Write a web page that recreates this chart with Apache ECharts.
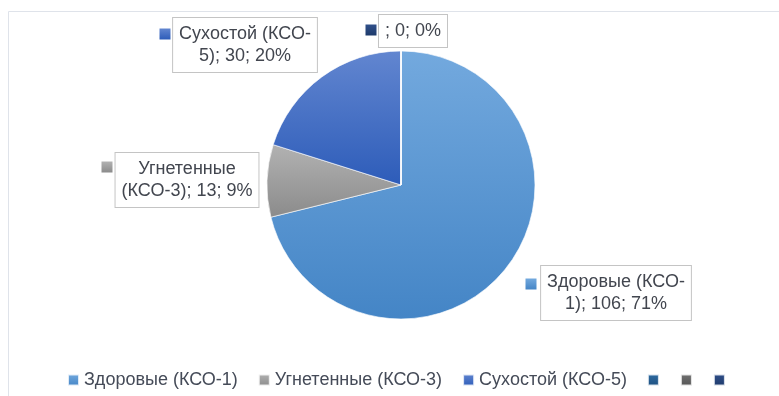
<!DOCTYPE html>
<html>
<head>
<meta charset="utf-8">
<script src="https://cdn.jsdelivr.net/npm/echarts@6/dist/echarts.min.js"></script>
<style>
  html, body { margin: 0; padding: 0; background: #fff; }
  #chart { width: 779px; height: 396px; }
</style>
</head>
<body>
<div id="chart"></div>
<script>
// Tree condition classes (КСО) and tree counts
const categories = ['Здоровые (КСО-1)', 'Угнетенные (КСО-3)', 'Сухостой (КСО-5)', '', '', ''];
const counts = [106, 13, 30, 0, 0, 0];

// Slice fills: vertical gradient, lighter at the top
const fillTop = ['#73a9de', '#b2b2b2', '#6286d0', '#2f6ca3', '#727272', '#30508a'];
const fillBottom = ['#4485c6', '#8b8b8b', '#2d5cb9', '#1d4f7f', '#545454', '#1e3a6b'];

// Label box centres and key-square centres
const boxCenters = [[616, 293], [187, 180], [245, 45], [0, 0], [0, 0], [413, 31]];
const keyCenters = [[531, 284], [107, 167], [165, 34], [0, 0], [0, 0], [371, 30]];
const labelShown = [true, true, true, false, false, true];

const FONT = 'Liberation Sans';

const grad = i => new echarts.graphic.LinearGradient(0, 0, 0, 1, [
  { offset: 0, color: fillTop[i] },
  { offset: 1, color: fillBottom[i] }
]);

// Internal names must be unique for the legend; empty categories get a placeholder id
const ids = categories.map((c, i) => c || ('item' + i));

const sliceData = counts.map((v, i) => ({
  name: ids[i],
  value: v,
  itemStyle: { color: grad(i) },
  label: { show: labelShown[i] }
}));

function wrapLabel(i, text) {
  if (i === 1) return text.replace(' (', '\n(');
  return text.replace('-', '-\n');
}

const chart = echarts.init(document.getElementById('chart'), null, { renderer: 'canvas' });

chart.setOption({
  animation: false,
  graphic: [{
    type: 'rect',
    shape: { x: 8.5, y: 11.5, width: 820, height: 420 },
    style: { fill: 'none', stroke: '#dfe3ea', lineWidth: 1 },
    silent: true
  }],
  legend: {
    left: 62,
    top: 366,
    itemWidth: 11,
    itemHeight: 11,
    itemGap: 20,
    icon: 'rect',
    data: ids,
    formatter: name => categories[ids.indexOf(name)],
    textStyle: { fontFamily: FONT, fontSize: 18, color: '#454b58' }
  },
  series: [
    {
      type: 'pie',
      center: [401, 185],
      radius: 134,
      startAngle: 90,
      clockwise: true,
      avoidLabelOverlap: false,
      percentPrecision: 0,
      data: sliceData,
      itemStyle: { borderColor: 'rgba(255,255,255,0.8)', borderWidth: 0.8 },
      labelLine: { show: false },
      label: {
        position: 'outside',
        formatter: p => wrapLabel(p.dataIndex,
          categories[p.dataIndex] + '; ' + p.value + '; ' + p.percent + '%'),
        fontFamily: FONT,
        fontSize: 18,
        lineHeight: 22,
        color: '#42464f',
        align: 'center',
        backgroundColor: '#ffffff',
        borderColor: '#c4c4c4',
        borderWidth: 1,
        padding: [5, 6, 5, 6]
      },
      labelLayout: p => ({
        x: boxCenters[p.dataIndex][0],
        y: boxCenters[p.dataIndex][1],
        align: 'center',
        verticalAlign: 'middle'
      }),
      emphasis: { disabled: true }
    },
    {
      // Coloured key squares beside each data label
      type: 'pie',
      center: [401, 185],
      radius: 134,
      silent: true,
      avoidLabelOverlap: false,
      data: counts.map((v, i) => ({
        name: ids[i],
        value: v,
        itemStyle: { color: 'rgba(0,0,0,0)' },
        label: {
          show: labelShown[i],
          formatter: '{k|}',
          rich: { k: { width: 11, height: 11, backgroundColor: grad(i) } }
        }
      })),
      itemStyle: { color: 'rgba(0,0,0,0)', borderWidth: 0 },
      labelLine: { show: false },
      label: { position: 'outside' },
      labelLayout: p => ({
        x: keyCenters[p.dataIndex][0],
        y: keyCenters[p.dataIndex][1],
        align: 'center',
        verticalAlign: 'middle'
      }),
      emphasis: { disabled: true }
    }
  ]
});
</script>
</body>
</html>
